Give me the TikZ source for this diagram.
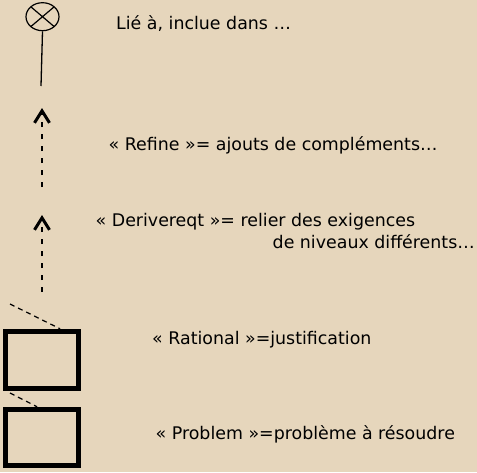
\documentclass[tikz,border=0pt]{standalone}
\usepackage{fontspec}
\setmainfont{DejaVu Sans}
\usetikzlibrary{
	arrows.meta,									% pointes de flèches
	positioning,									% placement relatif des nœuds
	shapes.geometric,								% ellipse
}
\definecolor{fondbeige}{RGB}{230,214,188}
\tikzset{
	legende/.style={anchor=base west, inner sep=0pt, font=\fontsize{17.4}{21}\selectfont},
	boite/.style={draw, line width=5.5pt, minimum width=73pt, inner sep=0pt},
	fleche/.style={dash pattern=on 5pt off 7pt, line width=1.3pt, -{Straight Barb[length=12pt, width=15pt, line width=3pt]}},
	tirets/.style={dash pattern=on 5pt off 4pt, line width=1.2pt},
}

\begin{document}
\begin{tikzpicture}[x=1pt, y=-1pt]
		\fill[fondbeige] (0,0) rectangle (477,472);
		\useasboundingbox (0,0) rectangle (477,472);
		% lien d'inclusion
		\node[ellipse, draw, line width=1.2pt, minimum width=33pt, minimum height=28pt, inner sep=0pt,
			path picture={\draw[line width=1.2pt] (path picture bounding box.north west) -- (path picture bounding box.south east)
				(path picture bounding box.north east) -- (path picture bounding box.south west);}] (lien) at (42.5,16.7) {};
		\coordinate (lienbas) at (41,86);
		\draw[line width=1.3pt] (lien.south) -- (lienbas);
		\node[legende] (txtlien) at (116,29.5) {Lié à, inclue dans …};
		% refine
		\coordinate (rfbas) at (42,187);
		\coordinate (rfpointe) at (42,108);
		\draw[fleche] (rfbas) -- (rfpointe);
		\node[legende] (txtrefine) at (108.5,150) {« Refine »= ajouts de compléments…};
		% derivereqt
		\coordinate (drbas) at (42,292);
		\coordinate (drpointe) at (42,215);
		\draw[fleche] (drbas) -- (drpointe);
		\node[legende] (txtderive) at (95.5,226.7) {« Derivereqt »= relier des exigences};
		\node[legende] (txtderivesuite) at (272.5,248.7) {de niveaux différents…};
		% rational
		\node[boite, minimum height=57pt] (rationnel) at (42,360) {};
		\coordinate (rtdebut) at (10,304);
		\draw[tirets] (rtdebut) -- ([xshift=18pt]rationnel.north);
		\node[legende] (txtrational) at (152,344.3) {« Rational »=justification};
		% problem
		\node[boite, minimum height=56pt] (probleme) at (42,437.5) {};
		\coordinate (pbdebut) at (10,393);
		\draw[tirets] (pbdebut) -- ([xshift=-5pt]probleme.north);
		\node[legende] (txtprobleme) at (155.5,439.3) {« Problem »=problème à résoudre};
	\end{tikzpicture}
\end{document}
